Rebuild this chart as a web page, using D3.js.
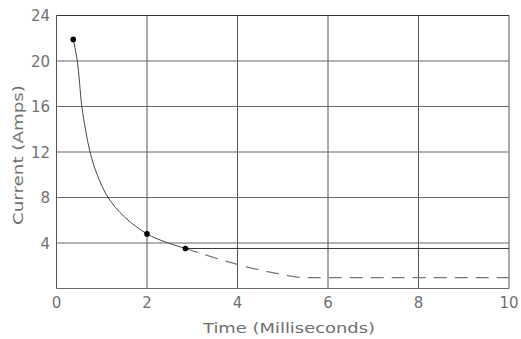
<!DOCTYPE html>
<html><head><meta charset="utf-8">
<script src="https://cdn.jsdelivr.net/npm/d3@7"></script>
<style>
body{margin:0;background:#fff;}
text{font-family:"DejaVu Sans",sans-serif;fill:#707070;}
</style></head>
<body><svg id="c" width="521" height="339"></svg>
<script>
const xTicks = [0, 2, 4, 6, 8, 10];
const yTicks = [0, 4, 8, 12, 16, 20, 24];
const markerX = [0.37, 2, 2.85];
const markerY = [21.9, 4.8, 3.52];
const curveX = [0.37, 0.46, 0.56, 0.64, 0.74, 0.9, 1.14, 1.5, 2, 2.4, 2.85];
const curveY = [21.9, 20, 16, 14, 12, 10, 8, 6.3, 4.8, 4.1, 3.52];
const dashX = [2.85, 3.1, 3.54, 4.2, 4.9, 5.5, 10];
const dashY = [3.52, 3.2, 2.64, 1.9, 1.3, 0.95, 0.95];
const steadyX = [2.85, 10];
const steadyY = [3.52, 3.52];
const xTitle = "Time (Milliseconds)";
const yTitle = "Current (Amps)";

const svg = d3.select("#c");
const x = d3.scaleLinear().domain([0, 10]).range([56.5, 509]);
const y = d3.scaleLinear().domain([0, 24]).range([288.5, 15.5]);

const g = svg.append("g");
g.selectAll("line.v").data(xTicks).join("line")
  .attr("x1", d => x(d)).attr("x2", d => x(d)).attr("y1", y(0)).attr("y2", y(24))
  .attr("stroke", d => d === 10 ? "#aaa" : "#555").attr("stroke-width", d => d === 10 ? 2 : 1);
g.selectAll("line.h").data(yTicks).join("line")
  .attr("x1", x(0)).attr("x2", x(10)).attr("y1", d => y(d)).attr("y2", d => y(d))
  .attr("stroke", d => d === 24 ? "#333" : "#666").attr("stroke-width", 1);

g.selectAll("text.xt").data(xTicks).join("text")
  .attr("x", d => x(d)).attr("y", 308).attr("text-anchor", "middle")
  .style("font-size", "15px").text(d => d);
g.selectAll("text.yt").data(yTicks.filter(d => d > 0)).join("text")
  .attr("x", 50).attr("y", d => y(d) + 5.5).attr("text-anchor", "end")
  .style("font-size", "15px").text(d => d);

svg.append("text").attr("x", 289).attr("y", 333).attr("text-anchor", "middle")
  .attr("textLength", 172).attr("lengthAdjust", "spacingAndGlyphs")
  .style("font-size", "14px").text(xTitle);
svg.append("text").attr("transform", "translate(23,155) rotate(-90)").attr("text-anchor", "middle")
  .attr("textLength", 140).attr("lengthAdjust", "spacingAndGlyphs")
  .style("font-size", "14px").text(yTitle);

const line = d3.line().x(d => x(d[0])).y(d => y(d[1]));
g.append("path").datum(d3.zip(steadyX, steadyY)).attr("d", line)
  .attr("fill", "none").attr("stroke", "#333").attr("stroke-width", 1);

const cl = d3.line().x(d => x(d[0])).y(d => y(d[1])).curve(d3.curveCatmullRom.alpha(0.5));
const ml = d3.line().x(d => x(d[0])).y(d => y(d[1])).curve(d3.curveMonotoneX);
g.append("path").datum(d3.zip(curveX, curveY)).attr("d", cl)
  .attr("fill", "none").attr("stroke", "#444").attr("stroke-width", 1);
g.append("path").datum(d3.zip(dashX, dashY)).attr("d", ml)
  .attr("fill", "none").attr("stroke", "#777").attr("stroke-width", 1.2)
  .attr("stroke-dasharray", "13,8");

g.selectAll("circle").data(d3.zip(markerX, markerY)).join("circle")
  .attr("cx", d => x(d[0])).attr("cy", d => y(d[1])).attr("r", 2.8).attr("fill", "#000");
</script></body></html>
